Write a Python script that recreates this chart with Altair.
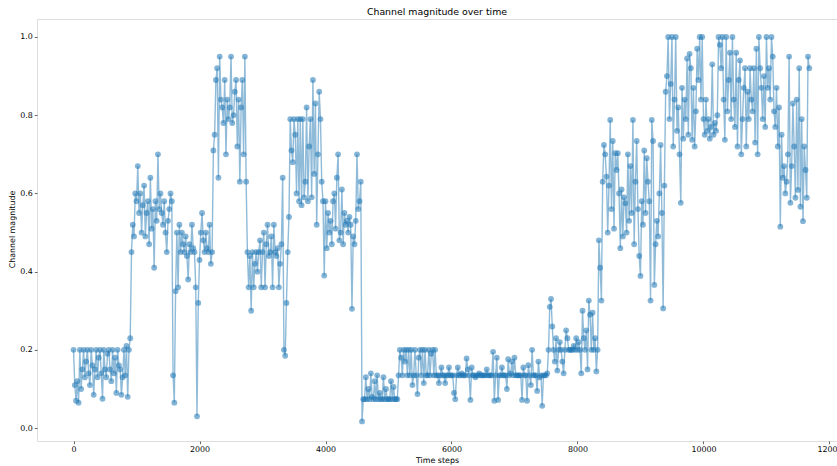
import altair as alt
import pandas as pd

# Channel magnitude readings, one every 20 time steps
mag_0_1980 = [
    0.2, 0.11, 0.07, 0.12, 0.065, 0.2, 0.1, 0.15, 0.2, 0.13,
    0.17, 0.2, 0.14, 0.11, 0.2, 0.16, 0.085, 0.15, 0.2, 0.13,
    0.18, 0.2, 0.14, 0.075, 0.2, 0.15, 0.13, 0.19, 0.2, 0.15,
    0.12, 0.2, 0.14, 0.18, 0.09, 0.2, 0.16, 0.15, 0.085, 0.13,
    0.2, 0.135, 0.21, 0.08, 0.2, 0.23, 0.45, 0.52, 0.49, 0.6,
    0.58, 0.67, 0.55, 0.6, 0.5, 0.57, 0.62, 0.49, 0.55, 0.58,
    0.47, 0.64, 0.51, 0.56, 0.41, 0.58, 0.53, 0.7, 0.56, 0.6,
    0.55, 0.52, 0.58, 0.5, 0.45, 0.53, 0.56, 0.6, 0.58, 0.135,
    0.065, 0.35, 0.5, 0.36, 0.52, 0.45, 0.5, 0.47, 0.45, 0.49,
    0.44, 0.38, 0.47, 0.45, 0.52, 0.46, 0.45, 0.36, 0.03, 0.32,
]
mag_2000_3980 = [
    0.43, 0.5, 0.55, 0.48, 0.45, 0.5, 0.46, 0.45, 0.52, 0.42,
    0.45, 0.71, 0.75, 0.89, 0.92, 0.64, 0.95, 0.84, 0.82, 0.78,
    0.89, 0.7, 0.84, 0.79, 0.82, 0.95, 0.78, 0.8, 0.86, 0.89,
    0.72, 0.84, 0.63, 0.82, 0.89, 0.7, 0.95, 0.63, 0.45, 0.36,
    0.44, 0.3, 0.45, 0.36, 0.42, 0.45, 0.4, 0.45, 0.48, 0.36,
    0.45, 0.5, 0.36, 0.47, 0.52, 0.44, 0.45, 0.49, 0.36, 0.52,
    0.45, 0.44, 0.46, 0.36, 0.42, 0.47, 0.64, 0.2, 0.185, 0.32,
    0.45, 0.54, 0.79, 0.71, 0.68, 0.79, 0.75, 0.6, 0.79, 0.58,
    0.79, 0.57, 0.79, 0.59, 0.63, 0.82, 0.58, 0.72, 0.79, 0.59,
    0.89, 0.65, 0.83, 0.52, 0.7, 0.86, 0.79, 0.63, 0.58, 0.39,
]
mag_4000_5980 = [
    0.58, 0.46, 0.55, 0.5, 0.53, 0.47, 0.58, 0.6, 0.51, 0.64,
    0.7, 0.48, 0.5, 0.61, 0.47, 0.55, 0.52, 0.53, 0.5, 0.54,
    0.52, 0.305, 0.49, 0.47, 0.53, 0.7, 0.56, 0.58, 0.63, 0.017,
    0.074, 0.074, 0.13, 0.074, 0.1, 0.074, 0.14, 0.08, 0.074, 0.12,
    0.074, 0.135, 0.074, 0.09, 0.074, 0.074, 0.13, 0.074, 0.1, 0.074,
    0.074, 0.074, 0.12, 0.074, 0.105, 0.074, 0.074, 0.074, 0.135, 0.2,
    0.18, 0.135, 0.2, 0.17, 0.2, 0.135, 0.2, 0.135, 0.2, 0.11,
    0.135, 0.2, 0.135, 0.087, 0.18, 0.2, 0.135, 0.2, 0.115, 0.2,
    0.135, 0.135, 0.2, 0.135, 0.19, 0.2, 0.135, 0.2, 0.135, 0.135,
    0.115, 0.135, 0.155, 0.135, 0.135, 0.115, 0.135, 0.135, 0.155, 0.135,
]
mag_6000_7980 = [
    0.135, 0.135, 0.09, 0.074, 0.135, 0.155, 0.135, 0.135, 0.14, 0.135,
    0.135, 0.135, 0.178, 0.15, 0.135, 0.072, 0.155, 0.135, 0.135, 0.13,
    0.135, 0.135, 0.14, 0.135, 0.135, 0.135, 0.135, 0.135, 0.15, 0.135,
    0.135, 0.135, 0.135, 0.195, 0.07, 0.135, 0.18, 0.072, 0.135, 0.135,
    0.155, 0.135, 0.135, 0.135, 0.1, 0.176, 0.135, 0.14, 0.17, 0.135,
    0.18, 0.135, 0.135, 0.135, 0.135, 0.135, 0.072, 0.155, 0.135, 0.135,
    0.07, 0.161, 0.135, 0.11, 0.2, 0.135, 0.135, 0.135, 0.095, 0.17,
    0.13, 0.135, 0.057, 0.135, 0.135, 0.135, 0.14, 0.2, 0.31, 0.33,
    0.26, 0.2, 0.17, 0.23, 0.147, 0.2, 0.22, 0.2, 0.17, 0.14,
    0.2, 0.25, 0.23, 0.2, 0.2, 0.2, 0.2, 0.21, 0.2, 0.23,
]
mag_8000_9980 = [
    0.2, 0.22, 0.2, 0.14, 0.3, 0.23, 0.2, 0.25, 0.15, 0.326,
    0.29, 0.2, 0.295, 0.2, 0.23, 0.145, 0.2, 0.48, 0.41, 0.326,
    0.63, 0.724, 0.7, 0.643, 0.5, 0.62, 0.788, 0.56, 0.734, 0.51,
    0.703, 0.66, 0.703, 0.6, 0.46, 0.61, 0.49, 0.59, 0.575, 0.5,
    0.7, 0.53, 0.67, 0.55, 0.788, 0.47, 0.63, 0.734, 0.56, 0.44,
    0.389, 0.58, 0.52, 0.71, 0.55, 0.69, 0.63, 0.58, 0.326, 0.788,
    0.734, 0.366, 0.47, 0.53, 0.49, 0.6, 0.724, 0.55, 0.306, 0.62,
    0.86, 0.9, 1.0, 0.79, 0.88, 1.0, 0.72, 0.84, 1.0, 0.76,
    0.82, 0.7, 0.576, 0.87, 0.74, 0.84, 0.79, 0.945, 0.75, 0.957,
    0.92, 0.737, 0.87, 0.72, 0.81, 0.97, 0.89, 1.0, 0.84, 1.0,
]
mag_10000_11680 = [
    0.79, 0.75, 0.84, 0.76, 0.79, 0.74, 0.77, 0.93, 0.75, 0.78,
    0.76, 0.8, 1.0, 0.98, 0.92, 1.0, 0.84, 0.737, 1.0, 0.81,
    0.89, 0.96, 0.79, 1.0, 0.84, 0.77, 0.96, 0.72, 0.89, 0.94,
    0.7, 0.79, 0.87, 0.92, 0.72, 0.86, 0.79, 0.92, 0.84, 0.81,
    0.92, 0.73, 0.97, 0.7, 1.0, 0.92, 0.87, 0.79, 0.9, 0.77,
    1.0, 0.87, 0.92, 0.84, 1.0, 0.95, 0.81, 0.77, 0.87, 0.72,
    0.82, 0.515, 0.75, 0.64, 0.67, 0.6, 0.63, 0.7, 0.95, 0.576,
    0.67, 0.83, 0.72, 0.589, 0.84, 0.609, 0.92, 0.566, 0.79, 0.529,
    0.72, 0.66, 0.589, 0.95, 0.92,
]

magnitude = (mag_0_1980 + mag_2000_3980 + mag_4000_5980
             + mag_6000_7980 + mag_8000_9980 + mag_10000_11680)
STEP = 20
time_steps = [i * STEP for i in range(len(magnitude))]

x_ticks = [0, 2000, 4000, 6000, 8000, 10000, 12000]
y_ticks = [0.0, 0.2, 0.4, 0.6, 0.8, 1.0]

df = pd.DataFrame({"t": time_steps, "m": magnitude})

FONT = "DejaVu Sans"
BLUE = "#1f77b4"

x_enc = alt.X(
    "t:Q",
    scale=alt.Scale(domain=[-580, 12120], nice=False, zero=False),
    axis=alt.Axis(
        title="Time steps", values=x_ticks, format="d", grid=False, domain=False,
        labelFlush=False, labelOverlap=False, labelBound=False,
        tickSize=2.7, tickWidth=0.6, tickColor="#000", labelPadding=2,
        labelFontSize=7.9, labelColor="#000", labelFont=FONT,
        titleFontSize=7.9, titleFontWeight="normal", titleColor="#000", titleFont=FONT,
        titleX=400, titleY=21.5, titleBaseline="alphabetic", titleAnchor="middle",
    ),
)
y_enc = alt.Y(
    "m:Q",
    scale=alt.Scale(domain=[-0.033, 1.046], nice=False, zero=False),
    axis=alt.Axis(
        title="Channel magnitude", values=y_ticks, format=".1f", grid=False, domain=False,
        labelFlush=False, labelOverlap=False,
        tickSize=2.7, tickWidth=0.6, tickColor="#000", labelPadding=2,
        labelFontSize=7.9, labelColor="#000", labelFont=FONT,
        titleFontSize=7.9, titleFontWeight="normal", titleColor="#000", titleFont=FONT,
        titleX=-24.5, titleY=210, titleAngle=270, titleBaseline="middle", titleAlign="center",
    ),
)

line = alt.Chart(df).mark_line(color=BLUE, opacity=0.5, strokeWidth=1.4).encode(x=x_enc, y=y_enc)
pts = alt.Chart(df).mark_point(
    filled=True, color=BLUE, opacity=0.55, size=34, shape="circle"
).encode(x="t:Q", y="m:Q")

chart = (
    alt.layer(line, pts)
    .properties(
        width=800,
        height=422,
        title=alt.TitleParams(
            "Channel magnitude over time", fontSize=9.4, fontWeight="normal",
            font=FONT, color="#000", anchor="middle", baseline="alphabetic",
            offset=5.5, dy=10.5,
        ),
        autosize=alt.AutoSizeParams(type="none"),
        padding={"left": 37, "top": 19, "right": 0, "bottom": 25},
    )
    .configure_view(stroke="#000", strokeWidth=0.7)
    .configure(background="white")
)

chart.save("out.html", embed_options={"renderer": "svg", "actions": False})
